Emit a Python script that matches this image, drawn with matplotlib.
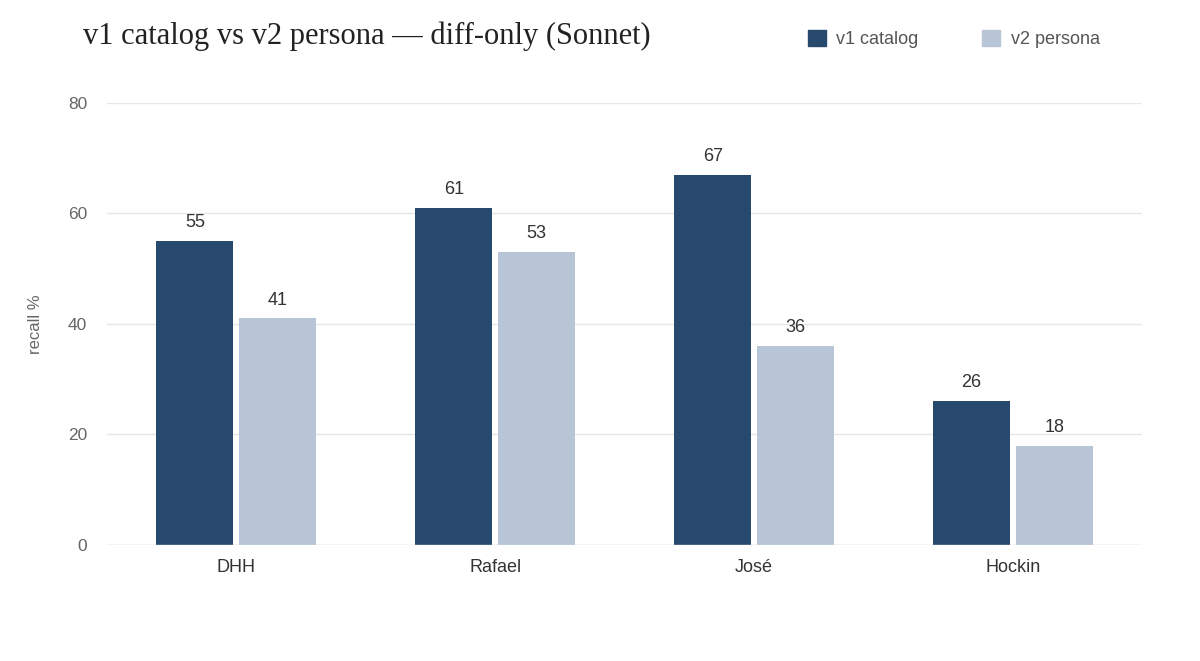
import matplotlib
matplotlib.use("Agg")
import matplotlib.pyplot as plt
import numpy as np
from matplotlib.patches import Patch

categories = ["DHH", "Rafael", "José", "Hockin"]
v1_catalog = [55, 61, 67, 26]
v2_persona = [41, 53, 36, 18]

DARK = "#27496d"
LIGHT = "#b8c5d6"

fig = plt.figure(figsize=(12, 6.61), dpi=100)
ax = fig.add_axes([0.089, 0.1755, 0.863, 0.6687])

x = np.arange(len(categories))
w = 0.297
b1 = ax.bar(x - 0.16, v1_catalog, w, color=DARK)
b2 = ax.bar(x + 0.16, v2_persona, w, color=LIGHT)
for bars in (b1, b2):
    for r in bars:
        ax.text(r.get_x() + r.get_width() / 2, r.get_height() + 1.8, f"{r.get_height():.0f}",
                ha="center", va="bottom", fontsize=13, color="#333333", family="Liberation Sans")

ax.set_xlim(-0.5, 3.5)
ax.set_ylim(0, 80)
ax.set_yticks([0, 20, 40, 60, 80])
ax.set_xticks(x)
ax.set_xticklabels(categories, fontsize=13, color="#333333", family="Liberation Sans")
for t in ax.get_yticklabels():
    t.set_family("Liberation Sans")
ax.tick_params(axis="y", labelsize=12.5, labelcolor="#666666", length=0, pad=14)
ax.tick_params(axis="x", length=0, pad=10)
ax.grid(axis="y", color="#e6e6e6", linewidth=1)
ax.set_axisbelow(True)
for s in ax.spines.values():
    s.set_visible(False)
ax.axhline(0, color="#e0e0e0", linewidth=1)
ax.set_ylabel("recall %", fontsize=12, color="#666666", family="Liberation Sans", labelpad=18)

fig.text(0.069, 0.945, "v1 catalog vs v2 persona — diff-only (Sonnet)", fontsize=22,
         family="Liberation Serif", color="#222222", va="center")
fig.legend(handles=[Patch(color=DARK), Patch(color=LIGHT)], labels=["v1 catalog", "v2 persona"],
           loc="center right", bbox_to_anchor=(0.93, 0.941), ncol=2, frameon=False,
           prop={"family": "Liberation Sans", "size": 13}, labelcolor="#555555",
           handlelength=1.0, handleheight=1.0, columnspacing=3.5, handletextpad=0.6)

fig.savefig("out.png", dpi=100, facecolor="white")
